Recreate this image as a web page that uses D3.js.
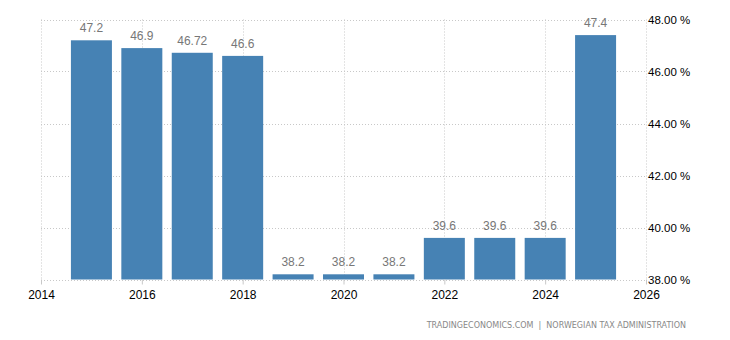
<!DOCTYPE html>
<html>
<head>
<meta charset="utf-8">
<script src="https://cdn.jsdelivr.net/npm/d3@7"></script>
<style>
  html, body { margin: 0; padding: 0; background: #fff; }
  svg { display: block; }
</style>
</head>
<body>
<svg id="chart" width="730" height="340"></svg>
<script>
const years = [2015, 2016, 2017, 2018, 2019, 2020, 2021, 2022, 2023, 2024, 2025];
const values = [47.2, 46.9, 46.72, 46.6, 38.2, 38.2, 38.2, 39.6, 39.6, 39.6, 47.4];
const labels = ["47.2", "46.9", "46.72", "46.6", "38.2", "38.2", "38.2", "39.6", "39.6", "39.6", "47.4"];
const xTicks = [2014, 2016, 2018, 2020, 2022, 2024, 2026];
const yTicks = [38, 40, 42, 44, 46, 48];
const source = "TRADINGECONOMICS.COM  |  NORWEGIAN TAX ADMINISTRATION";

(function () {
const svg = d3.select("#chart");
const pLeft = 41, pRight = 646, pTop = 19.5, pBottom = 279.5;
const x = d3.scaleLinear().domain([2014, 2026]).range([pLeft, pRight]);
const y = d3.scaleLinear().domain([38, 48]).range([pBottom, pTop]);
const barW = 41;
const grid = "#c8c8c8";
const font = "'Liberation Sans', Arial, sans-serif";

// horizontal gridlines
svg.append("g").selectAll("line").data(yTicks).join("line")
  .attr("x1", pLeft).attr("x2", pRight)
  .attr("y1", d => Math.round(y(d)) + 0.5).attr("y2", d => Math.round(y(d)) + 0.5)
  .attr("stroke", grid).attr("stroke-dasharray", "1,2");

// vertical gridlines
svg.append("g").selectAll("line").data(xTicks).join("line")
  .attr("x1", d => Math.round(x(d)) + 0.5).attr("x2", d => Math.round(x(d)) + 0.5)
  .attr("y1", pTop).attr("y2", pBottom)
  .attr("stroke", grid).attr("stroke-dasharray", "1,2");

// bars
svg.append("g").selectAll("rect").data(years).join("rect")
  .attr("x", (d) => x(d) - barW / 2)
  .attr("width", barW)
  .attr("y", (d, i) => y(values[i]))
  .attr("height", (d, i) => pBottom - y(values[i]))
  .attr("fill", "#4682b4");

// value labels
svg.append("g").selectAll("text").data(years).join("text")
  .attr("x", d => x(d))
  .attr("y", (d, i) => y(values[i]) - 8)
  .attr("text-anchor", "middle")
  .attr("font-family", font).attr("font-size", 12)
  .attr("fill", "#777")
  .text((d, i) => labels[i]);

// x axis
const xAxis = d3.axisBottom(x).tickValues(xTicks).tickFormat(d3.format("d")).tickSize(5).tickPadding(6);
const gx = svg.append("g").attr("transform", `translate(0,${pBottom})`).call(xAxis);
gx.select(".domain").remove();
gx.selectAll(".tick line").attr("stroke", grid);
gx.selectAll(".tick text").attr("font-family", font).attr("font-size", 12).attr("fill", "#000");

// y axis right
const yAxis = d3.axisRight(y).tickValues(yTicks).tickFormat(d => d3.format(".2f")(d) + " %").tickSize(0).tickPadding(2);
const gy = svg.append("g").attr("transform", `translate(${pRight},0)`).call(yAxis);
gy.select(".domain").remove();
gy.selectAll(".tick text").attr("font-family", font).attr("font-size", 11.5).attr("fill", "#000");

// source
svg.append("text")
  .attr("x", 686).attr("y", 328)
  .attr("text-anchor", "end")
  .attr("font-family", "'DejaVu Sans', sans-serif").attr("font-size", 8)
  .attr("fill", "#888")
  .attr("xml:space", "preserve")
  .text(source);
})();
</script>
</body>
</html>
